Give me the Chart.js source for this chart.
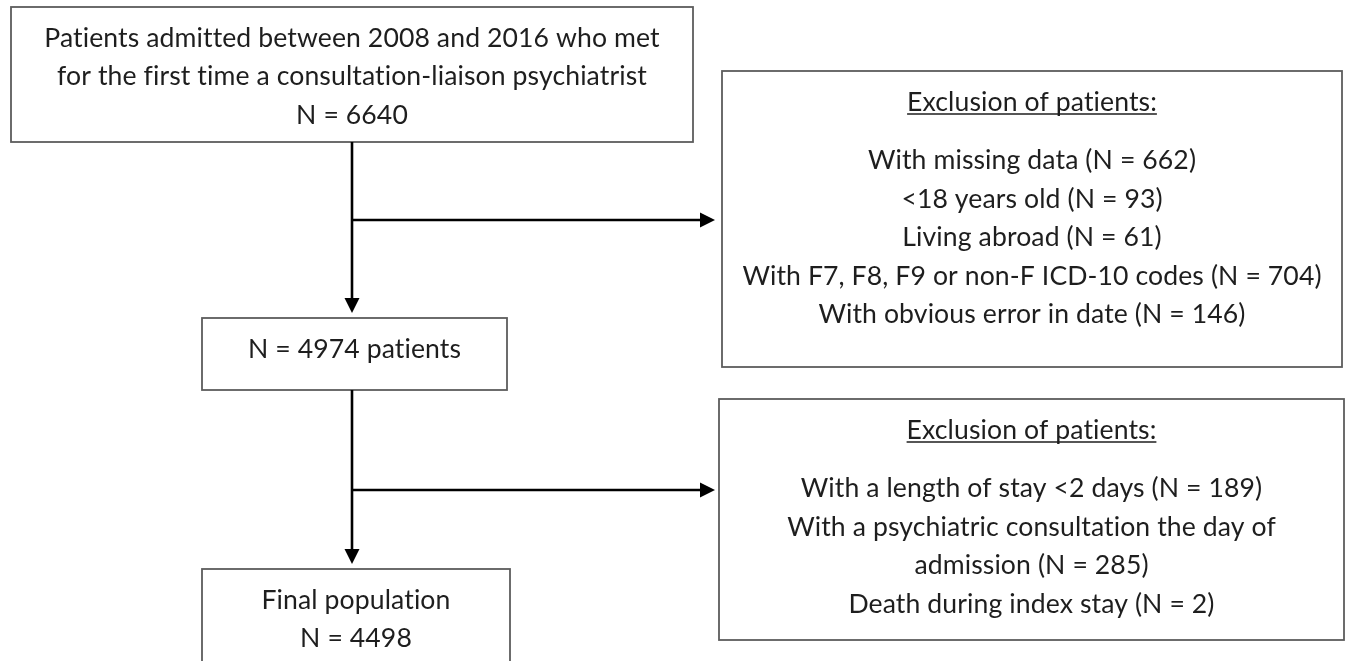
<!DOCTYPE html>
<html>
<head>
<meta charset="utf-8">
<script src="https://cdn.jsdelivr.net/npm/chart.js@4.4.1/dist/chart.umd.min.js"></script>
<style>
  html, body { margin: 0; padding: 0; background: #fff; }
  #wrap { width: 1349px; height: 661px; }
</style>
</head>
<body>
<div id="wrap"><canvas id="flow"></canvas></div>
<script>
// Flow of patients through the inclusion steps

// Data
const stageCounts = [6640, 4974, 4498];
const cohortText = [
  'Patients admitted between 2008 and 2016 who met',
  'for the first time a consultation-liaison psychiatrist'
];
const finalText = 'Final population';
const exclusionHeader = 'Exclusion of patients:';
const exclusion1Reasons = ['With missing data', '<18 years old', 'Living abroad', 'With F7, F8, F9 or non-F ICD-10 codes', 'With obvious error in date'];
const exclusion1Counts = [662, 93, 61, 704, 146];
const exclusion2Reasons = ['With a length of stay <2 days', 'With a psychiatric consultation the day of\nadmission', 'Death during index stay'];
const exclusion2Counts = [189, 285, 2];

const nLabel = n => `N = ${n}`;
const reasonLines = (reasons, counts) => reasons.flatMap((r, i) => (`${r} (${nLabel(counts[i])})`).split('\n'));

// Layout (in canvas units, mapped through the scales)
const boxes = [
  { x0: 11, x1: 693, y0: 7, y1: 142, header: null, lines: [...cohortText, nLabel(stageCounts[0])] },
  { x0: 722, x1: 1342, y0: 71, y1: 367, header: exclusionHeader, lines: reasonLines(exclusion1Reasons, exclusion1Counts) },
  { x0: 202, x1: 507, y0: 318, y1: 390, header: null, lines: [`${nLabel(stageCounts[1])} patients`] },
  { x0: 719, x1: 1344, y0: 399, y1: 640, header: exclusionHeader, lines: reasonLines(exclusion2Reasons, exclusion2Counts) },
  { x0: 202, x1: 510, y0: 569, y1: 700, header: null, lines: [finalText, nLabel(stageCounts[2])] }
];
const arrows = [
  { x0: 352, y0: 142, x1: 352, y1: 313 },
  { x0: 352, y0: 220, x1: 715, y1: 220 },
  { x0: 352, y0: 390, x1: 352, y1: 564 },
  { x0: 352, y0: 490, x1: 715, y1: 490 }
];

const FONT = '26.6px Lato';
const LINE_H = 38.5;
const FIRST_LINE = 30;

const flowPlugin = {
  id: 'flowchart',
  afterDraw(chart) {
    const { ctx, scales: { x, y } } = chart;
    const px = v => x.getPixelForValue(v);
    const py = v => y.getPixelForValue(v);
    ctx.save();

    // boxes
    boxes.forEach(b => {
      ctx.strokeStyle = '#5c5c5c';
      ctx.lineWidth = 1.8;
      ctx.strokeRect(px(b.x0), py(b.y0), px(b.x1) - px(b.x0), py(b.y1) - py(b.y0));

      ctx.font = FONT;
      if ('letterSpacing' in ctx) ctx.letterSpacing = '0.1px'; // no "ti"/"tt" ligatures
      ctx.fillStyle = '#1e1e1e';
      ctx.textAlign = 'center';
      ctx.textBaseline = 'alphabetic';
      const cx = px((b.x0 + b.x1) / 2);
      let cy = b.y0 + FIRST_LINE;
      if (b.header) {
        const base = py(cy) + 9.5;
        ctx.fillText(b.header, cx, base);
        const w = ctx.measureText(b.header).width;
        ctx.strokeStyle = '#1e1e1e';
        ctx.lineWidth = 1.3;
        ctx.beginPath();
        ctx.moveTo(cx - w / 2, base + 3.5);
        ctx.lineTo(cx + w / 2, base + 3.5);
        ctx.stroke();
        cy += LINE_H * 1.52;
      }
      b.lines.forEach((t, i) => {
        ctx.fillText(t, cx, py(cy + i * LINE_H) + 9.5);
      });
    });

    // arrows
    ctx.strokeStyle = '#000';
    ctx.fillStyle = '#000';
    ctx.lineWidth = 2.6;
    arrows.forEach(a => {
      const x0 = px(a.x0), y0 = py(a.y0), x1 = px(a.x1), y1 = py(a.y1);
      const ang = Math.atan2(y1 - y0, x1 - x0);
      const len = 15, half = 7.5;
      const bx = x1 - len * Math.cos(ang), by = y1 - len * Math.sin(ang);
      ctx.beginPath();
      ctx.moveTo(x0, y0);
      ctx.lineTo(bx, by);
      ctx.stroke();
      ctx.beginPath();
      ctx.moveTo(x1, y1);
      ctx.lineTo(bx + half * Math.sin(ang), by - half * Math.cos(ang));
      ctx.lineTo(bx - half * Math.sin(ang), by + half * Math.cos(ang));
      ctx.closePath();
      ctx.fill();
    });
    ctx.restore();
  }
};

document.fonts.load(FONT).then(() => {
  new Chart(document.getElementById('flow'), {
    type: 'scatter',
    data: { datasets: [] },
    options: {
      responsive: true,
      maintainAspectRatio: false,
      animation: false,
      layout: { padding: 0 },
      plugins: { legend: { display: false }, tooltip: { enabled: false } },
      scales: {
        x: { type: 'linear', min: 0, max: 1349, display: false },
        y: { type: 'linear', min: 0, max: 661, reverse: true, display: false }
      }
    },
    plugins: [flowPlugin]
  });
});
</script>
</body>
</html>
